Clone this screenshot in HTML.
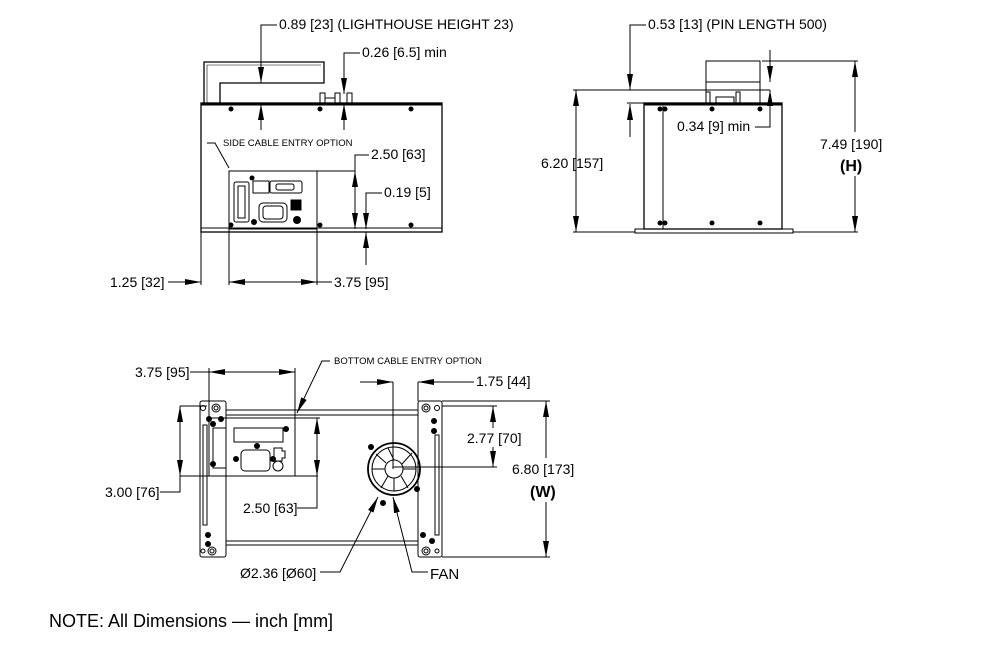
<!DOCTYPE html>
<html><head><meta charset="utf-8"><style>
html,body{margin:0;padding:0;background:#fff;}
svg{display:block;}
text{font-family:"Liberation Sans",Arial,sans-serif;fill:#000;}
</style></head><body>
<svg width="994" height="648" viewBox="0 0 994 648" xmlns="http://www.w3.org/2000/svg">
<defs>
<marker id="a" viewBox="0 0 16 6" refX="16" refY="3" markerWidth="16" markerHeight="6" markerUnits="userSpaceOnUse" orient="auto-start-reverse"><path d="M0,0 L16,3 L0,6 z" fill="#000"/></marker>
</defs>
<g stroke="#000" fill="none" stroke-width="1">
<path d="M204,103 V62 H324 V83 H220 V103" stroke-width="1.3"/>
<path d="M207,103 V65 H321" stroke-width="0.6"/>
<rect x="201" y="103" width="241" height="129" stroke-width="1.3"/>
<line x1="201" y1="104.5" x2="442" y2="104.5" stroke-width="2"/>
<line x1="201" y1="228" x2="442" y2="228"/>
<rect x="320" y="93" width="5" height="10"/><rect x="335" y="93" width="5" height="10"/><rect x="347" y="93" width="5" height="10"/>
<rect x="325" y="98" width="10" height="5"/>
<rect x="229" y="171" width="88" height="58"/>
<rect x="234" y="182" width="15" height="40" rx="2"/>
<rect x="238" y="186" width="7" height="32"/>
<rect x="253" y="181" width="16" height="12"/>
<rect x="270" y="181" width="32" height="12" rx="2"/>
<rect x="276" y="184" width="18" height="6" rx="2"/>
<rect x="259" y="203" width="28" height="19" rx="4"/>
<rect x="263" y="206" width="20" height="13" rx="3"/>
<rect x="291" y="200" width="10" height="10" fill="#000"/>
<line x1="317" y1="171" x2="355" y2="171"/>
<line x1="317" y1="171" x2="317" y2="285"/>
<line x1="229" y1="229" x2="229" y2="285"/>
<line x1="201" y1="232" x2="201" y2="285"/>
<path d="M277,25 H261 V83" marker-end="url(#a)"/>
<line x1="261" y1="130" x2="261" y2="104" marker-end="url(#a)"/>
<path d="M360,53 H344 V94" marker-end="url(#a)"/>
<line x1="344" y1="130" x2="344" y2="104" marker-end="url(#a)"/>
<path d="M207,143 H215 L229,168"/>
<path d="M369,155 H355 V229" marker-end="url(#a)"/>
<line x1="355" y1="200" x2="355" y2="171" marker-end="url(#a)"/>
<path d="M382,193 H366 V229" marker-end="url(#a)"/>
<line x1="366" y1="265" x2="366" y2="232" marker-end="url(#a)"/>
<line x1="168" y1="282" x2="201" y2="282" marker-end="url(#a)"/>
<line x1="229" y1="282" x2="317" y2="282" marker-start="url(#a)" marker-end="url(#a)"/>
<line x1="317" y1="282" x2="332" y2="282"/>
<rect x="644" y="103" width="138" height="126" stroke-width="1.3"/>
<line x1="644" y1="104.5" x2="782" y2="104.5" stroke-width="2"/>
<rect x="635" y="229" width="158" height="4"/>
<line x1="663" y1="106" x2="663" y2="229"/>
<rect x="706" y="61" width="54" height="42"/>
<line x1="706" y1="82" x2="760" y2="82"/>
<rect x="706" y="92" width="4" height="11"/><rect x="736" y="92" width="4" height="11"/>
<rect x="716" y="97" width="18" height="6"/>
<line x1="573" y1="90" x2="770" y2="90"/>
<line x1="627" y1="103" x2="644" y2="103"/>
<path d="M646,25 H630 V90" marker-end="url(#a)"/>
<line x1="630" y1="137" x2="630" y2="104" marker-end="url(#a)"/>
<line x1="576" y1="90" x2="576" y2="232" marker-start="url(#a)" marker-end="url(#a)"/>
<line x1="573" y1="232" x2="635" y2="232"/>
<line x1="770" y1="50" x2="770" y2="82" marker-end="url(#a)"/>
<path d="M755,127 H770 V90" marker-end="url(#a)"/>
<line x1="762" y1="61" x2="858" y2="61"/>
<line x1="793" y1="232" x2="858" y2="232"/>
<line x1="855" y1="61" x2="855" y2="232" marker-start="url(#a)" marker-end="url(#a)"/>
<rect x="200" y="401" width="26" height="156" rx="2"/>
<rect x="418" y="401" width="24" height="156" rx="2"/>
<rect x="226" y="410" width="192" height="5"/>
<rect x="226" y="541" width="192" height="4"/>
<rect x="203" y="425" width="4" height="100"/>
<rect x="435" y="435" width="4" height="100"/>
<rect x="209" y="418" width="86" height="58"/>
<rect x="213" y="428" width="13" height="40"/>
<rect x="234" y="428" width="49" height="14"/>
<rect x="241" y="450" width="29" height="21" rx="4"/>
<path d="M274,448 h8 v3 h3 v7 h-3 v3 h-8 z"/>
<circle cx="278" cy="466" r="5"/>
<circle cx="394" cy="469" r="26" stroke-width="1.8"/>
<circle cx="394" cy="469" r="22"/>
<circle cx="394" cy="469" r="9"/>
<path d="M403,469 H416 M394,460 L388,448 M385,469 H372 M388,476 L381,488 M401,476 L408,488 M402,464 L412,453 M386,463 L376,454 M394,478 L394,491"/>
<circle cx="203" cy="408" r="2.5"/><circle cx="216" cy="408" r="4"/><circle cx="216" cy="408" r="2"/>
<circle cx="437" cy="408" r="2.5"/><circle cx="426" cy="408" r="4"/><circle cx="426" cy="408" r="2"/>
<circle cx="212" cy="551" r="4"/><circle cx="212" cy="551" r="2"/><circle cx="203" cy="551" r="2"/>
<circle cx="426" cy="551" r="4"/><circle cx="426" cy="551" r="2"/><circle cx="437" cy="551" r="2"/>
<line x1="209" y1="368" x2="209" y2="418"/>
<line x1="295" y1="368" x2="295" y2="418"/>
<line x1="190" y1="372" x2="209" y2="372"/>
<line x1="209" y1="372" x2="295" y2="372" marker-start="url(#a)" marker-end="url(#a)"/>
<path d="M330,361 H322 L297,413" marker-end="url(#a)"/>
<line x1="393" y1="382" x2="393" y2="469"/>
<line x1="418" y1="382" x2="418" y2="401"/>
<line x1="360" y1="382" x2="393" y2="382" marker-end="url(#a)"/>
<line x1="474" y1="382" x2="418" y2="382" marker-end="url(#a)"/>
<line x1="180" y1="406" x2="207" y2="406"/>
<line x1="180" y1="476" x2="318" y2="476"/>
<line x1="180" y1="406" x2="180" y2="476" marker-start="url(#a)" marker-end="url(#a)"/>
<path d="M160,492 H180 V476"/>
<line x1="295" y1="418" x2="320" y2="418"/>
<line x1="317" y1="418" x2="317" y2="476" marker-start="url(#a)" marker-end="url(#a)"/>
<path d="M297,508 H317 V476"/>
<line x1="442" y1="406" x2="497" y2="406"/>
<line x1="393" y1="467" x2="497" y2="467"/>
<line x1="493" y1="406" x2="493" y2="467" marker-start="url(#a)" marker-end="url(#a)"/>
<line x1="442" y1="401" x2="550" y2="401"/>
<line x1="442" y1="557" x2="550" y2="557"/>
<line x1="546" y1="401" x2="546" y2="557" marker-start="url(#a)" marker-end="url(#a)"/>
<path d="M320,572 H340 L378,497" marker-end="url(#a)"/>
<path d="M428,572 H412 L393,497" marker-end="url(#a)"/>
</g>
<g fill="#fff">
<rect x="818" y="132" width="68" height="44"/>
<rect x="510" y="458" width="68" height="44"/>
<rect x="465" y="428" width="56" height="19"/>
</g>
<g fill="#000">
<circle cx="231" cy="109" r="2.5"/><circle cx="320" cy="109" r="2.5"/><circle cx="411" cy="109" r="2.5"/>
<circle cx="231" cy="225" r="2.5"/><circle cx="320" cy="225" r="2.5"/><circle cx="411" cy="225" r="2.5"/>
<circle cx="252" cy="178" r="2.5"/><circle cx="297" cy="220" r="4"/><circle cx="254" cy="222" r="3"/>
<circle cx="660" cy="109" r="2.5"/><circle cx="665" cy="109" r="2.5"/><circle cx="712" cy="109" r="2.5"/><circle cx="760" cy="109" r="2.5"/>
<circle cx="660" cy="223" r="2.5"/><circle cx="665" cy="223" r="2.5"/><circle cx="712" cy="223" r="2.5"/><circle cx="760" cy="223" r="2.5"/>
<circle cx="209" cy="419" r="3"/><circle cx="221" cy="419" r="3"/><circle cx="213" cy="424" r="3"/>
<circle cx="213" cy="464" r="3"/><circle cx="286" cy="429" r="3"/><circle cx="257" cy="446" r="3"/>
<circle cx="236" cy="459" r="3"/><circle cx="273" cy="459" r="3"/>
<circle cx="371" cy="447" r="3"/><circle cx="417" cy="489" r="3"/><circle cx="383" cy="503" r="3"/>
<circle cx="434" cy="421" r="3"/><circle cx="434" cy="431" r="3"/><circle cx="208" cy="535" r="3"/><circle cx="208" cy="544" r="3"/>
<circle cx="423" cy="535" r="3"/><circle cx="432" cy="541" r="3"/>
</g>
<g font-size="14">
<text x="279" y="29">0.89 [23] (LIGHTHOUSE HEIGHT 23)</text>
<text x="362" y="57">0.26 [6.5] min</text>
<text x="223" y="146" font-size="9.5">SIDE CABLE ENTRY OPTION</text>
<text x="371" y="159">2.50 [63]</text>
<text x="384" y="197">0.19 [5]</text>
<text x="110" y="287">1.25 [32]</text>
<text x="334" y="287">3.75 [95]</text>
<text x="648" y="29">0.53 [13] (PIN LENGTH 500)</text>
<text x="677" y="131">0.34 [9] min</text>
<text x="541" y="168">6.20 [157]</text>
<text x="820" y="149">7.49 [190]</text>
<text x="840" y="171" font-weight="bold" font-size="16">(H)</text>
<text x="135" y="377">3.75 [95]</text>
<text x="334" y="364" font-size="9.5">BOTTOM CABLE ENTRY OPTION</text>
<text x="476" y="386">1.75 [44]</text>
<text x="467" y="443">2.77 [70]</text>
<text x="512" y="474">6.80 [173]</text>
<text x="530" y="497" font-weight="bold" font-size="16">(W)</text>
<text x="105" y="497">3.00 [76]</text>
<text x="243" y="513">2.50 [63]</text>
<text x="240" y="578">Ø2.36 [Ø60]</text>
<text x="430" y="579" font-size="15">FAN</text>
<text x="49" y="627" font-size="18">NOTE: All Dimensions — inch [mm]</text>
</g>
</svg>
</body></html>
